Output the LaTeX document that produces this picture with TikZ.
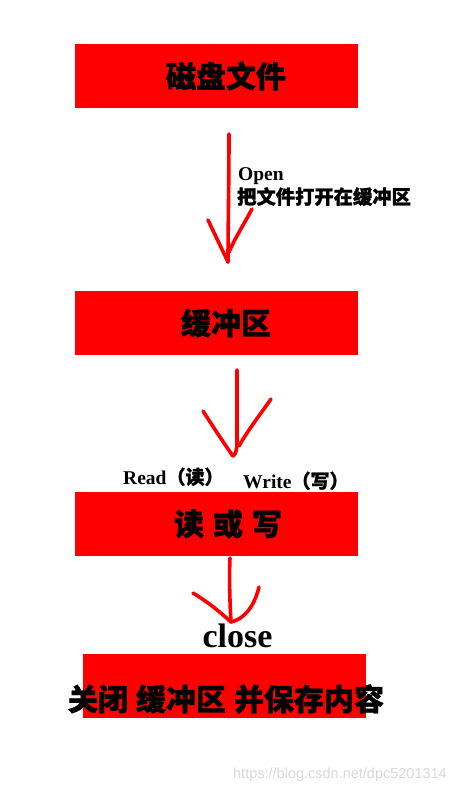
\documentclass[tikz,border=0pt]{standalone}
\usepackage{fontspec}
\setmainfont{Liberation Serif}
\setsansfont{Liberation Sans}
\newfontfamily\cjk{Noto Sans CJK SC}
\newfontfamily\cjkheavy{Noto Sans CJK SC}[BoldFeatures={FakeBold=1.2}]
\begin{document}
\begin{tikzpicture}[x=1pt,y=-1pt,
  redbox/.style={fill={rgb,255:red,255;green,0;blue,0}, draw=none, minimum width=283pt, minimum height=64pt, inner sep=0pt},
  boxtext/.style={font=\cjkheavy\bfseries\fontsize{30}{34}\selectfont, inner sep=0pt, text=black},
  label/.style={font=\bfseries\fontsize{19.5}{22}\selectfont, inner sep=0pt, anchor=base west},
  cjklabel/.style={font=\cjkheavy\bfseries\fontsize{19.3}{22}\selectfont, inner sep=0pt, anchor=base west},
  pen/.style={draw={rgb,255:red,255;green,0;blue,0}, line width=3.6pt, line cap=round, line join=round}]
\useasboundingbox (0,0) rectangle (457,791);
\fill[white] (0,0) rectangle (457,791);

% boxes
\node[redbox] (b1) at (216.5,76) {};
\node[redbox] (b2) at (216.5,322.5) {};
\node[redbox] (b3) at (216.5,524) {};
\node[redbox] (b4) at (224.5,686) {};

\node[boxtext] (t1) at (226,76) {磁盘文件};
\node[boxtext] (t2) at (226,323) {缓冲区};
\node[boxtext] (t3) at (228,524) {读\hspace{9pt}或\hspace{9pt}写};
\node[boxtext] (t4) at (226,699) {关闭\hspace{8pt}缓冲区\hspace{8pt}并保存内容};

% arrow 1
\coordinate (a1s) at (229,134);
\coordinate (a1t) at (228,262);
\coordinate (a1l) at (208,220);
\coordinate (a1r) at (252,209);
\path[pen] (a1s) .. controls (229,180) and (228,230) .. (a1t);
\path[pen] (a1l) -- (a1t);
\path[pen] (a1r) .. controls (244,224) and (234,240) .. (229,252);

\node[label] (open) at (238,181) {Open};
\node[cjklabel] (opencn) at (237,204) {把文件打开在缓冲区};

% arrow 2
\coordinate (a2s) at (237,370);
\coordinate (a2t) at (233,456);
\coordinate (a2l) at (203,411);
\coordinate (a2r) at (271,399);
\path[pen] (a2s) -- (237,438) .. controls (237,450) and (236,454) .. (a2t);
\path[pen] (a2l) .. controls (212,425) and (225,445) .. (a2t);
\path[pen] (a2r) .. controls (262,412) and (248,430) .. (239,446);

\node[label] (read) at (123,484) {Read\cjkheavy\fontsize{19}{22}\selectfont （读）};
\node[label] (write) at (243,488) {Write\cjkheavy\fontsize{19}{22}\selectfont （写）};

% arrow 3
\coordinate (a3s) at (230,558);
\coordinate (a3t) at (231,622);
\coordinate (a3l) at (193,593);
\coordinate (a3r) at (259,587);
\path[pen] (a3s) .. controls (229,580) and (230,605) .. (a3t);
\path[pen] (a3l) .. controls (208,602) and (220,612) .. (a3t);
\path[pen] (a3r) .. controls (256,600) and (248,618) .. (a3t);

\node[font=\bfseries\fontsize{34}{36}\selectfont, inner sep=0pt, anchor=base] (close) at (237.5,647) {close};

% watermark
\node[font=\sffamily\fontsize{14.5}{16}\selectfont, text=black!15, inner sep=0pt, anchor=base east] (wm) at (447,778) {https://blog.csdn.net/dpc5201314};
\end{tikzpicture}
\end{document}
